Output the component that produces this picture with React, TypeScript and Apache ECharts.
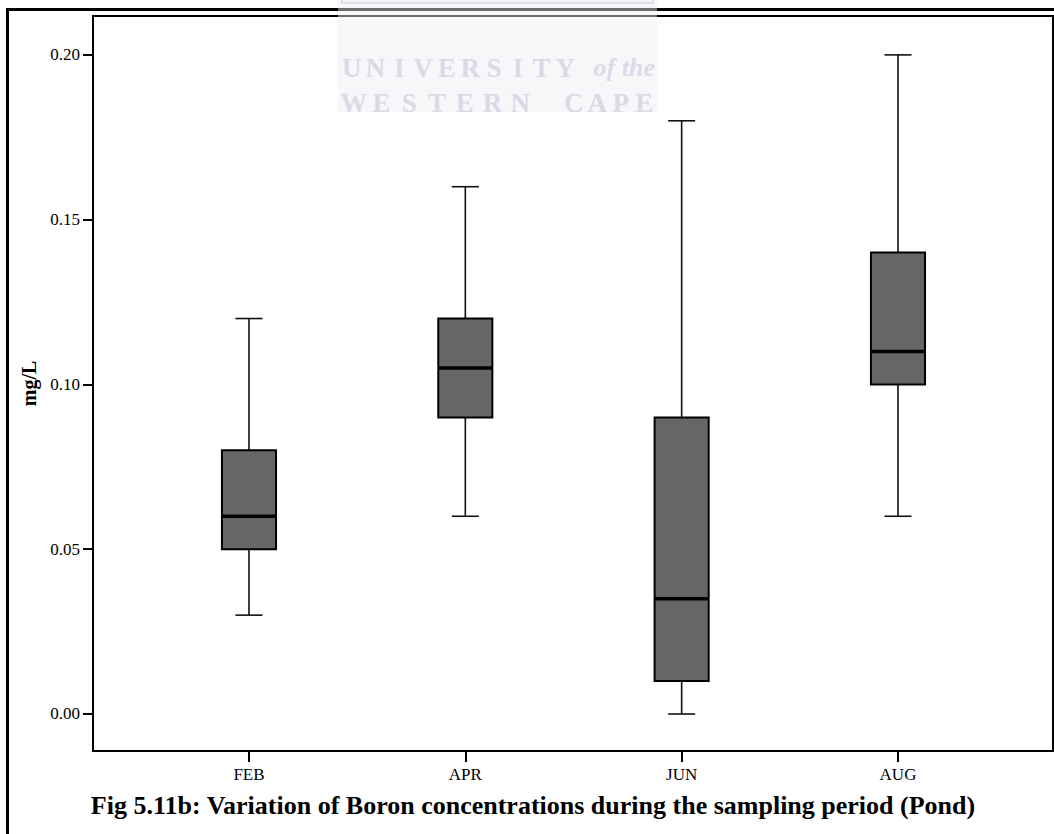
import React, { useEffect, useRef } from "react";
import * as echarts from "echarts";

// Boron concentration (mg/L) box-plot statistics per sampling month
const MONTHS = ["FEB", "APR", "JUN", "AUG"];
const WHISKER_LOW = [0.03, 0.06, 0.0, 0.06];
const Q1 = [0.05, 0.09, 0.01, 0.1];
const MEDIAN = [0.06, 0.105, 0.035, 0.11];
const Q3 = [0.08, 0.12, 0.09, 0.14];
const WHISKER_HIGH = [0.12, 0.16, 0.18, 0.2];

const Y_TICKS = [0, 0.05, 0.1, 0.15, 0.2];
const X_TICKS = [0, 1, 2, 3];
const X_MIN = -0.721;
const X_MAX = 3.7165;
const Y_MIN = -0.01123;
const Y_MAX = 0.2118;

const TITLE = "Fig 5.11b: Variation of Boron concentrations during the sampling period (Pond)";
const Y_NAME = "mg/L";
const WM_LINE1 = "UNIVERSITY";
const WM_ITALIC = "of the";
const WM_WORD2 = "WESTERN";
const WM_WORD3 = "CAPE";

const SERIF = "Liberation Serif, Times New Roman, serif";
const WM_COLOR = "#c8cbdb";

// spread the letters of a word evenly over a horizontal span
function spacedLetters(word: string, x0: number, x1: number, y: number) {
  const step = (x1 - x0) / word.length;
  return word.split("").map((ch, i) => ({
    type: "text",
    x: x0 + step * (i + 0.5),
    y,
    silent: true,
    style: {
      text: ch,
      fill: WM_COLOR,
      fontFamily: SERIF,
      fontSize: 27,
      fontWeight: "bold",
      align: "center",
      verticalAlign: "alphabetic",
    },
  }));
}

export default function App() {
  const ref = useRef<HTMLDivElement>(null);

  useEffect(() => {
    document.body.style.margin = "0";
    if (!ref.current) return;
    const chart = echarts.init(ref.current, null, { renderer: "svg" });

    const data = MONTHS.map((_, i) => [i, WHISKER_LOW[i], Q1[i], MEDIAN[i], Q3[i], WHISKER_HIGH[i]]);

    const renderBox = (params: any, api: any) => {
      const x = api.value(0);
      const pLow = api.coord([x, api.value(1)]);
      const pQ1 = api.coord([x, api.value(2)]);
      const pMed = api.coord([x, api.value(3)]);
      const pQ3 = api.coord([x, api.value(4)]);
      const pHigh = api.coord([x, api.value(5)]);
      const band = api.size([1, 0])[0];
      const boxW = band * 0.25;
      const capW = boxW / 2;
      const cx = pMed[0];
      const whisker = { stroke: "#111", lineWidth: 1.6 };
      return {
        type: "group",
        children: [
          { type: "line", shape: { x1: cx, y1: pLow[1], x2: cx, y2: pQ1[1] }, style: whisker },
          { type: "line", shape: { x1: cx, y1: pQ3[1], x2: cx, y2: pHigh[1] }, style: whisker },
          { type: "line", shape: { x1: cx - capW / 2, y1: pLow[1], x2: cx + capW / 2, y2: pLow[1] }, style: whisker },
          { type: "line", shape: { x1: cx - capW / 2, y1: pHigh[1], x2: cx + capW / 2, y2: pHigh[1] }, style: whisker },
          {
            type: "rect",
            shape: { x: cx - boxW / 2, y: pQ3[1], width: boxW, height: pQ1[1] - pQ3[1] },
            style: { fill: "#666666", stroke: "#000", lineWidth: 2 },
          },
          {
            type: "line",
            shape: { x1: cx - boxW / 2, y1: pMed[1], x2: cx + boxW / 2, y2: pMed[1] },
            style: { stroke: "#000", lineWidth: 3.5 },
          },
        ],
      };
    };

    const option: any = {
      animation: false,
      grid: {
        left: 93,
        right: 1,
        top: 16,
        bottom: 83,
        show: true,
        borderColor: "#000",
        borderWidth: 2,
      },
      xAxis: {
        type: "value",
        min: X_MIN,
        max: X_MAX,
        splitLine: { show: false },
        axisLine: { show: true, onZero: false, lineStyle: { color: "#000", width: 2 } },
        axisTick: { show: true, customValues: X_TICKS, length: 11, lineStyle: { color: "#000", width: 2 } },
        axisLabel: {
          customValues: X_TICKS,
          formatter: (v: number) => MONTHS[Math.round(v)] ?? "",
          color: "#000",
          fontFamily: SERIF,
          fontSize: 17,
          margin: 15,
        },
      },
      yAxis: {
        type: "value",
        min: Y_MIN,
        max: Y_MAX,
        name: Y_NAME,
        nameLocation: "middle",
        nameRotate: 90,
        nameGap: 52,
        nameTextStyle: { color: "#000", fontFamily: SERIF, fontSize: 20, fontWeight: "bold" },
        splitLine: { show: false },
        axisLine: { show: true, onZero: false, lineStyle: { color: "#000", width: 2 } },
        axisTick: { show: true, customValues: Y_TICKS, length: 10, lineStyle: { color: "#000", width: 2 } },
        axisLabel: {
          customValues: Y_TICKS,
          formatter: (v: number) => v.toFixed(2),
          color: "#000",
          fontFamily: SERIF,
          fontSize: 17,
          margin: 13,
        },
      },
      series: [
        {
          type: "custom",
          renderItem: renderBox,
          data,
          encode: { x: 0, y: [1, 2, 3, 4, 5] },
          clip: false,
          silent: true,
        },
      ],
      graphic: [
        // outer figure border
        {
          type: "polyline",
          shape: { points: [[7.5, 900], [7.5, 9.5], [1100, 9.5]] },
          style: { stroke: "#000", lineWidth: 3, fill: null },
          z: 10,
        },
        // watermark panel
        {
          type: "rect",
          shape: { x: 338, y: -4, width: 319, height: 116 },
          style: { fill: "rgba(238,238,245,0.45)" },
          z: 20,
          silent: true,
        },
        {
          type: "rect",
          shape: { x: 342, y: -4, width: 311, height: 7 },
          style: { fill: "rgba(0,0,0,0)", stroke: "#dcdeea", lineWidth: 2 },
          z: 20,
          silent: true,
        },
        {
          type: "group",
          z: 21,
          silent: true,
          children: [
            ...spacedLetters(WM_LINE1, 340, 577, 54),
            {
              type: "text",
              x: 655,
              y: 54,
              style: {
                text: WM_ITALIC,
                fill: WM_COLOR,
                fontFamily: SERIF,
                fontSize: 26,
                fontWeight: "bold",
                fontStyle: "italic",
                align: "right",
                verticalAlign: "alphabetic",
              },
            },
            ...spacedLetters(WM_WORD2, 340, 534, 89),
            ...spacedLetters(WM_WORD3, 562, 656, 89),
          ],
        },
        // figure caption
        {
          type: "text",
          x: 533,
          y: 805,
          style: {
            text: TITLE,
            fill: "#000",
            fontFamily: SERIF,
            fontSize: 26,
            fontWeight: "bold",
            align: "center",
            verticalAlign: "middle",
          },
          z: 10,
        },
      ],
    };

    chart.setOption(option);
    return () => chart.dispose();
  }, []);

  return <div ref={ref} style={{ width: 1054, height: 834, background: "#ffffff" }} />;
}
